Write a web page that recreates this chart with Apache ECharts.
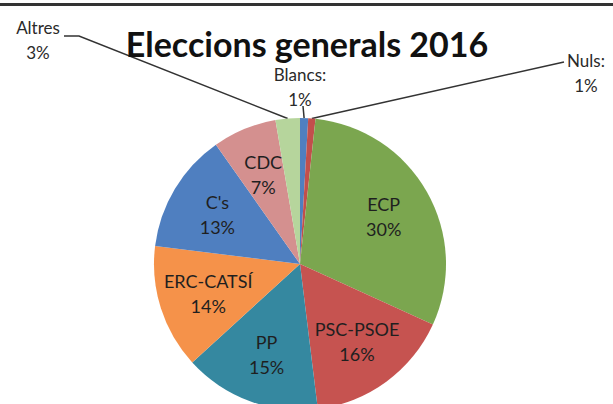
<!DOCTYPE html>
<html>
<head>
<meta charset="utf-8">
<script src="https://cdn.jsdelivr.net/npm/echarts@6/dist/echarts.min.js"></script>
<style>
  html, body { margin: 0; padding: 0; background: #fff; }
  #chart { width: 613px; height: 404px; }
</style>
</head>
<body>
<div id="chart"></div>
<script>
(function() {
  var titleText = 'Eleccions generals 2016';
  var parties = ['Blancs:', 'Nuls:', 'ECP', 'PSC-PSOE', 'PP', 'ERC-CATSÍ', "C's", 'CDC', 'Altres'];
  var shares = [0.9, 0.8, 30.2, 16.3, 15.2, 13.8, 13.3, 7.1, 2.7];
  var colors = ['#4f7fc0', '#c24f4c', '#7ba64f', '#c65350', '#3588a0', '#f5924a', '#4f7fc0', '#d4908f', '#b6d59c'];
  var outsideIdx = [0, 1, 8];

  var cx = 300, cy = 264, R = 146;
  var total = shares.reduce(function(a, b) { return a + b; }, 0);
  function midAngle(i) {
    var acc = 0;
    for (var k = 0; k < i; k++) acc += shares[k];
    return (acc + shares[i] / 2) / total * Math.PI * 2;
  }
  function polar(a, r) {
    return [cx + r * Math.sin(a), cy - r * Math.cos(a)];
  }

  // where the three small slices put their labels
  var outsideSpots = {
    0: { x: 300, y: 87, line: [[303, 106]] },
    1: { x: 586, y: 73, line: [[564, 62]] },
    8: { x: 38, y: 40, line: [[79, 36], [64, 36]] }
  };

  var chart = echarts.init(document.getElementById('chart'), null, { renderer: 'svg' });
  chart.setOption({
    animation: false,
    title: {
      text: titleText,
      left: 302,
      top: 21,
      textAlign: 'center',
      textStyle: { fontFamily: 'Lato', fontWeight: 'bold', fontSize: 34, color: '#111' }
    },
    graphic: [{
      type: 'line',
      shape: { x1: 0, y1: 4.5, x2: 613, y2: 4.5 },
      style: { stroke: '#333', lineWidth: 3 }
    }],
    series: [{
      type: 'pie',
      center: [cx, cy],
      radius: R,
      startAngle: 90,
      clockwise: true,
      avoidLabelOverlap: false,
      itemStyle: { borderWidth: 0 },
      label: {
        show: true,
        position: 'inside',
        fontFamily: 'Lato',
        fontSize: 18,
        lineHeight: 25,
        color: '#1f1f1f',
        formatter: function(p) { return p.name + '\n' + Math.round(p.percent) + '%'; }
      },
      labelLine: { show: false },
      labelLayout: function(p) {
        var i = p.dataIndex;
        var a = midAngle(i);
        if (outsideSpots[i]) {
          var s = outsideSpots[i];
          var pts = [polar(a, R)].concat(s.line);
          return { x: s.x, y: s.y, align: 'center', verticalAlign: 'middle', labelLinePoints: pts };
        }
        var pt = polar(a, R * 0.66);
        return { x: pt[0], y: pt[1], align: 'center', verticalAlign: 'middle' };
      },
      data: parties.map(function(n, i) {
        var item = { name: n, value: shares[i], itemStyle: { color: colors[i] } };
        if (outsideIdx.indexOf(i) >= 0) {
          item.label = { position: 'outside', fontFamily: 'Lato', fontSize: 17, lineHeight: 25, color: '#2a2a2a' };
          item.labelLine = { show: true, length: 10, length2: 10, lineStyle: { color: '#333', width: 1.5 } };
        }
        return item;
      })
    }]
  });
  window.addEventListener('resize', function() { chart.resize(); });
})();
</script>
</body>
</html>
